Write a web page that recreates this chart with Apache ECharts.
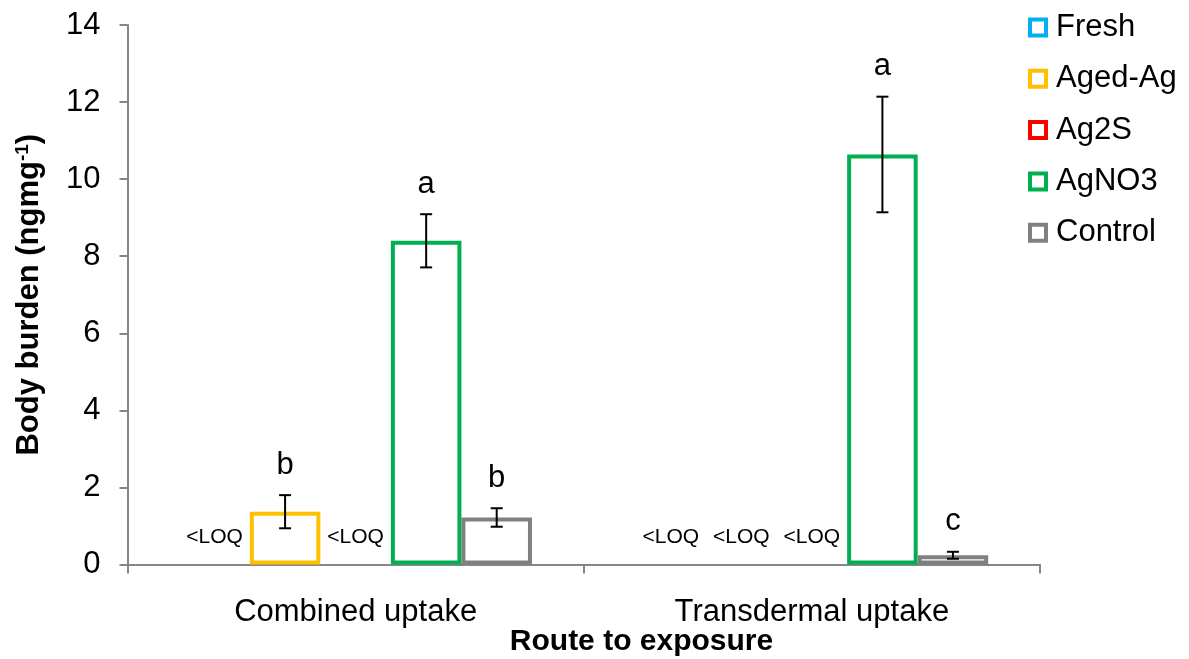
<!DOCTYPE html>
<html>
<head>
<meta charset="utf-8">
<script src="https://cdn.jsdelivr.net/npm/echarts@6/dist/echarts.min.js"></script>
<style>
  html, body { margin: 0; padding: 0; background: #fff; }
  #chart { width: 1189px; height: 659px; }
</style>
</head>
<body>
<div id="chart"></div>
<script>
// Silver body burden by exposure route and silver form
const categories = ['Combined uptake', 'Transdermal uptake'];
const seriesNames = ['Fresh', 'Aged-Ag', 'Ag2S', 'AgNO3', 'Control'];
const seriesColors = ['#00B0F0', '#FFC000', '#FF0000', '#00B050', '#808080'];
const yTicks = [0, 2, 4, 6, 8, 10, 12, 14];

// Mean body burden (ng mg-1); null = below limit of quantification
const freshMean   = [null, null];
const agedAgMean  = [1.37, null];
const ag2sMean    = [null, null];
const agno3Mean   = [8.40, 10.64];
const controlMean = [1.22, 0.24];

// Error bar half-lengths
const freshErr   = [null, null];
const agedAgErr  = [0.43, null];
const ag2sErr    = [null, null];
const agno3Err   = [0.69, 1.50];
const controlErr = [0.24, 0.09];

// Significance letters
const freshSig   = ['', ''];
const agedAgSig  = ['b', ''];
const ag2sSig    = ['', ''];
const agno3Sig   = ['a', 'a'];
const controlSig = ['b', 'c'];

const means = [freshMean, agedAgMean, ag2sMean, agno3Mean, controlMean];
const errs = [freshErr, agedAgErr, ag2sErr, agno3Err, controlErr];
const sigs = [freshSig, agedAgSig, ag2sSig, agno3Sig, controlSig];

const FONT = '"Liberation Sans", Arial, sans-serif';
const CAT_GAP = 0.227;
const AXIS_COLOR = '#868686';

// Error bars, significance letters and <LOQ notes drawn over the bars
function overlay(sIdx) {
  return function (params, api) {
    const cat = params.dataIndex;
    const band = api.size([1, 0])[0];
    const barW = band * (1 - CAT_GAP) / seriesNames.length;
    const cx = api.coord([cat, 0])[0] + (sIdx - (seriesNames.length - 1) / 2) * barW;
    const m = means[sIdx][cat];
    const e = errs[sIdx][cat];
    const children = [];
    if (m == null) {
      const y0 = api.coord([cat, 0])[1];
      children.push({
        type: 'text',
        style: {
          text: '<LOQ', x: cx, y: y0 - 27, align: 'center', verticalAlign: 'middle',
          fontSize: 21, fontFamily: FONT, fill: '#000'
        }
      });
      return { type: 'group', children: children };
    }
    const top = api.coord([cat, m + e])[1];
    const bot = api.coord([cat, m - e])[1];
    const lineStyle = { stroke: '#000', lineWidth: 2 };
    children.push({ type: 'line', shape: { x1: cx, y1: top, x2: cx, y2: bot }, style: lineStyle });
    children.push({ type: 'line', shape: { x1: cx - 6, y1: top, x2: cx + 6, y2: top }, style: lineStyle });
    children.push({ type: 'line', shape: { x1: cx - 6, y1: bot, x2: cx + 6, y2: bot }, style: lineStyle });
    const letter = sigs[sIdx][cat];
    if (letter) {
      children.push({
        type: 'text',
        style: {
          text: letter, x: cx, y: top - 30, align: 'center', verticalAlign: 'middle',
          fontSize: 31, fontFamily: FONT, fill: '#000'
        }
      });
    }
    return { type: 'group', children: children };
  };
}

const series = [];
seriesNames.forEach(function (name, i) {
  series.push({
    name: name,
    type: 'bar',
    data: means[i].map(function (v) { return v == null ? '-' : v; }),
    barGap: '0%',
    barCategoryGap: (CAT_GAP * 100) + '%',
    itemStyle: { color: '#ffffff', borderColor: seriesColors[i], borderWidth: 4 },
    emphasis: { disabled: true },
    z: 2
  });
});
seriesNames.forEach(function (name, i) {
  series.push({
    name: name + ' error',
    type: 'custom',
    renderItem: overlay(i),
    data: categories.map(function (c, k) { return [k]; }),
    clip: false,
    z: 5
  });
});

const chart = echarts.init(document.getElementById('chart'));
chart.setOption({
  animation: false,
  backgroundColor: '#ffffff',
  textStyle: { fontFamily: FONT },
  grid: {
    left: 127.5, right: 149, top: 25, bottom: 94.5,
    containLabel: false, outerBoundsMode: 'none'
  },
  legend: {
    data: seriesNames,
    orient: 'vertical',
    left: 1023,
    top: 7,
    itemWidth: 16,
    itemHeight: 16,
    itemGap: 20.3,
    icon: 'rect',
    itemStyle: { borderWidth: 4 },
    textStyle: { fontSize: 31, color: '#000', fontFamily: FONT, padding: [0, 0, 0, 5] },
    selectedMode: false
  },
  xAxis: {
    type: 'category',
    data: categories,
    axisLine: { lineStyle: { color: AXIS_COLOR, width: 2 } },
    axisTick: { show: true, length: 9, lineStyle: { color: AXIS_COLOR, width: 2 } },
    axisLabel: { fontSize: 31, color: '#000', margin: 32, fontFamily: FONT }
  },
  yAxis: {
    type: 'value',
    min: yTicks[0],
    max: yTicks[yTicks.length - 1],
    interval: yTicks[1] - yTicks[0],
    axisLine: { show: true, lineStyle: { color: AXIS_COLOR, width: 2 } },
    axisTick: { show: true, length: 8, lineStyle: { color: AXIS_COLOR, width: 2 } },
    splitLine: { show: false },
    axisLabel: { fontSize: 31, color: '#000', margin: 27, fontFamily: FONT },
    name: '{t|Body burden (ngmg}{s|-1}{t|)}',
    nameLocation: 'middle',
    nameGap: 83,
    nameMoveOverlap: false,
    nameRotate: 90,
    nameTextStyle: {
      rich: {
        t: { fontSize: 31, fontWeight: 'bold', color: '#000', fontFamily: FONT },
        s: { fontSize: 19, fontWeight: 'bold', color: '#000', fontFamily: FONT, verticalAlign: 'top', padding: [0, 0, 8, 0] }
      }
    }
  },
  graphic: [{
    type: 'text',
    x: 0, y: 0,
    style: {
      text: 'Route to exposure', x: 641.5, y: 642, align: 'center', verticalAlign: 'middle',
      fontSize: 30, fontWeight: 'bold', fill: '#000', fontFamily: FONT
    }
  }],
  series: series
});
</script>
</body>
</html>
